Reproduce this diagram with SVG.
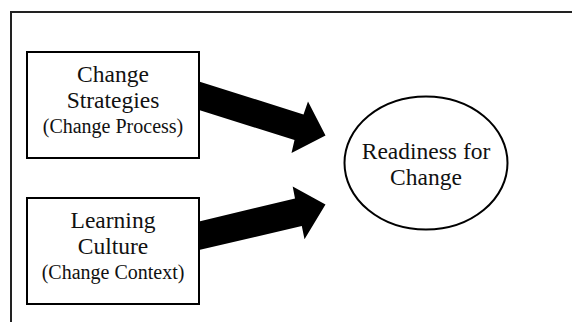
<svg xmlns="http://www.w3.org/2000/svg" width="572" height="322" viewBox="0 0 572 322">
  <style>
    .box { fill: #ffffff; stroke: #000000; stroke-width: 2; }
    .ell { fill: #ffffff; stroke: #000000; stroke-width: 2; }
    .frame { fill: none; stroke: #222222; stroke-width: 2; }
    .arrow { fill: #000000; stroke: none; }
    .lbl { fill: #111111; text-anchor: middle; }
    .main { font-size: 23.5px; }
    .sub { font-size: 20px; }
  </style>
  <rect width="572" height="322" fill="#ffffff"/>
  <path class="frame" d="M11,322 L11,12 L572,12"/>
  <g id="connectors">
    <polygon class="arrow" points="199,81.5 303.5,114.5 308,101.5 325.5,135.5 291.5,153 294.5,140 199,110"/>
    <polygon class="arrow" points="199,221.5 295,198.5 292.7,186.5 325.5,204.5 304.5,239.3 301.8,226 199,250"/>
  </g>
  <g id="node-change-strategies" font-family="Liberation Serif, DejaVu Serif, serif">
    <rect class="box" x="27" y="52" width="172" height="106"/>
    <text class="lbl main" x="113" y="82">Change</text>
    <text class="lbl main" x="113" y="108">Strategies</text>
    <text class="lbl sub" x="113" y="133">(Change Process)</text>
  </g>
  <g id="node-learning-culture" font-family="Liberation Serif, DejaVu Serif, serif">
    <rect class="box" x="27" y="198" width="172" height="106"/>
    <text class="lbl main" x="113" y="228">Learning</text>
    <text class="lbl main" x="113" y="254">Culture</text>
    <text class="lbl sub" x="113" y="279">(Change Context)</text>
  </g>
  <g id="node-readiness" font-family="Liberation Serif, DejaVu Serif, serif">
    <ellipse class="ell" cx="426" cy="163" rx="81.5" ry="66.5"/>
    <text class="lbl main" x="426" y="159">Readiness for</text>
    <text class="lbl main" x="426" y="185">Change</text>
  </g>
</svg>
